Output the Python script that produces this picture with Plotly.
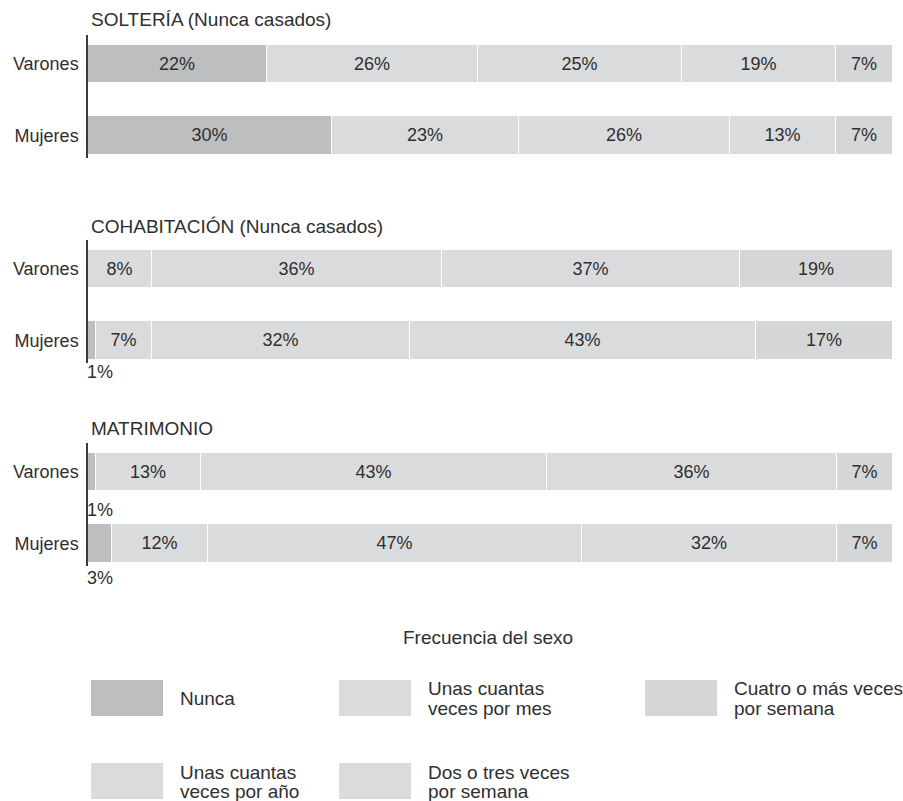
import plotly.graph_objects as go

# ---- data ----
categories = ["Nunca", "Unas cuantas veces por año", "Unas cuantas veces por mes",
              "Dos o tres veces por semana", "Cuatro o más veces por semana"]
groups = ["Varones", "Mujeres"]
panel_titles = ["SOLTERÍA (Nunca casados)", "COHABITACIÓN (Nunca casados)", "MATRIMONIO"]

solteria_varones = [22, 26, 25, 19, 7]
solteria_mujeres = [30, 23, 26, 13, 7]
cohab_varones = [0, 8, 36, 37, 19]
cohab_mujeres = [1, 7, 32, 43, 17]
matri_varones = [1, 13, 43, 36, 7]
matri_mujeres = [3, 12, 47, 32, 7]

panels = [
    (solteria_varones, solteria_mujeres),
    (cohab_varones, cohab_mujeres),
    (matri_varones, matri_mujeres),
]

colors = ["#bdbec0", "#dadbdd", "#dadbdd", "#dadbdd", "#d5d6d8"]
TXT = "#2f2f2f"
FONT = "Liberation Sans, Arial, sans-serif"
FS = 18
FT = 19
W, H = 903, 801

def py(p):  # pixel y -> paper
    return 1 - p / H

def px(p):
    return p / W

fig = go.Figure()

# panel pixel geometry (top, bottom of axis area)
panel_px = [(35, 158), (240, 363), (443, 566)]
title_px = [20, 226, 428]
small_shift = {(1, 1): -32, (2, 0): -38, (2, 1): -35}

for pi, (vals_v, vals_m) in enumerate(panels):
    xa = "x" if pi == 0 else f"x{pi+1}"
    ya = "y" if pi == 0 else f"y{pi+1}"
    for ci, cat in enumerate(categories):
        vals = [vals_v[ci], vals_m[ci]]
        texts = [f"{v}%" if v >= 5 else "" for v in vals]
        fig.add_trace(go.Bar(
            orientation="h", y=groups, x=vals, name=cat,
            xaxis=xa, yaxis=ya, width=0.54,
            marker=dict(color=colors[ci], line=dict(color="white", width=1)),
            text=texts, textposition="inside", insidetextanchor="middle",
            textfont=dict(family=FONT, size=FS, color=TXT),
            textangle=0, constraintext="none",
            showlegend=False, hoverinfo="skip",
        ))
    # small labels below bars
    for gi, (g, vals) in enumerate(zip(groups, (vals_v, vals_m))):
        for ci, v in enumerate(vals):
            if 0 < v < 5:
                fig.add_annotation(x=0, y=g, xref=xa, yref=ya, text=f"{v}%",
                                   showarrow=False, xanchor="left", yanchor="middle",
                                   xshift=-3, yshift=small_shift.get((pi, gi), -35),
                                   font=dict(family=FONT, size=FS, color=TXT))
    top, bot = panel_px[pi]
    xkey = "xaxis" if pi == 0 else f"xaxis{pi+1}"
    ykey = "yaxis" if pi == 0 else f"yaxis{pi+1}"
    fig.update_layout(**{
        xkey: dict(domain=[px(88), px(893)], range=[0, 100], visible=False,
                   anchor=ya, fixedrange=True),
        ykey: dict(domain=[py(bot), py(top)], anchor=xa, type="category",
                   range=[1.315, -0.406], showline=True, linecolor="#3a3a3a",
                   linewidth=1.5, showgrid=False, zeroline=False, fixedrange=True,
                   ticks="outside", ticklen=4, tickcolor="rgba(0,0,0,0)",
                   tickfont=dict(family=FONT, size=FS, color=TXT)),
    })
    fig.add_annotation(x=px(89), y=py(title_px[pi]), xref="paper", yref="paper",
                       text=panel_titles[pi], showarrow=False, xanchor="left",
                       yanchor="middle", font=dict(family=FONT, size=FT, color=TXT))

# ---- custom legend ----
fig.add_annotation(x=px(488), y=py(637), xref="paper", yref="paper",
                   text="Frecuencia del sexo", showarrow=False, xanchor="center",
                   yanchor="middle", font=dict(family=FONT, size=FT, color=TXT))

legend_items = [
    # (category index, swatch x0, swatch y0, text lines, text y centers)
    (0, 91, 680, ["Nunca"], [698]),
    (2, 339, 680, ["Unas cuantas", "veces por mes"], [688, 708]),
    (4, 645, 680, ["Cuatro o más veces", "por semana"], [688, 708]),
    (1, 91, 763, ["Unas cuantas", "veces por año"], [772, 791]),
    (3, 339, 763, ["Dos o tres veces", "por semana"], [772, 791]),
]
for ci, x0, y0, lines, ys in legend_items:
    fig.add_shape(type="rect", xref="paper", yref="paper",
                  x0=px(x0), x1=px(x0 + 72), y0=py(y0), y1=py(y0 + 36),
                  fillcolor=colors[ci], line=dict(width=0))
    for line, yc in zip(lines, ys):
        fig.add_annotation(x=px(x0 + 87), y=py(yc), xref="paper", yref="paper",
                           text=line, showarrow=False, xanchor="left", yanchor="middle",
                           font=dict(family=FONT, size=FT, color=TXT))

fig.update_layout(
    width=W, height=H, margin=dict(l=0, r=0, t=0, b=0),
    barmode="stack", barnorm="percent", bargap=0,
    paper_bgcolor="white", plot_bgcolor="white",
    font=dict(family=FONT, size=FS, color=TXT),
    uniformtext=dict(minsize=FS, mode="show"),
)

fig.write_html("out.html", config={"displayModeBar": False},
               post_script="document.body.style.margin='0';document.body.style.overflow='hidden';")
